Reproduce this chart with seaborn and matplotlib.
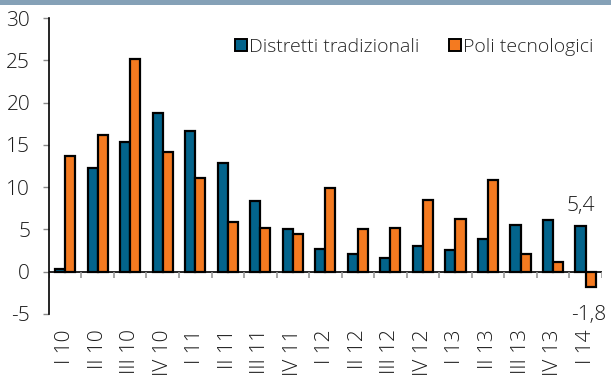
import matplotlib
matplotlib.use("Agg")
import matplotlib.pyplot as plt
import seaborn as sns
import pandas as pd
import numpy as np
from matplotlib.patches import Rectangle
from matplotlib.lines import Line2D

quarters = ["I 10", "II 10", "III 10", "IV 10", "I 11", "II 11", "III 11", "IV 11",
            "I 12", "II 12", "III 12", "IV 12", "I 13", "II 13", "III 13", "IV 13", "I 14"]
distretti = [0.3, 12.3, 15.3, 18.8, 16.6, 12.9, 8.4, 5.0, 2.7, 2.1, 1.65, 3.0,
             2.6, 3.9, 5.5, 6.1, 5.4]
poli = [13.7, 16.2, 25.1, 14.1, 11.1, 5.9, 5.2, 4.4, 9.9, 5.0, 5.2, 8.5,
        6.2, 10.8, 2.1, 1.1, -1.8]
series_names = ["Distretti tradizionali", "Poli tecnologici"]
colors = ["#03648c", "#f47a20"]
yticks = [-5, 0, 5, 10, 15, 20, 25, 30]

df = pd.DataFrame({
    "quarter": quarters * 2,
    "value": distretti + poli,
    "serie": [series_names[0]] * len(quarters) + [series_names[1]] * len(quarters),
})

sns.set_style("white")
plt.rcParams["font.family"] = ["Open Sans", "DejaVu Sans"]
plt.rcParams["font.weight"] = 300
text_color = "#1a1a1a"
fs = 15

fig = plt.figure(figsize=(6.11, 3.76), dpi=100)
ax = fig.add_axes([0.080, 0.165, 0.905, 0.787])

sns.barplot(data=df, x="quarter", y="value", hue="serie", palette=colors,
            width=0.62, edgecolor="black", linewidth=1.6, ax=ax, legend=False,
            saturation=1)

ax.set_ylim(-5, 30)
ax.set_xlim(-0.5, len(quarters) - 0.5)
ax.set_yticks(yticks)
ax.set_yticklabels([str(t) for t in yticks], fontsize=fs, color=text_color, fontweight=300)
ax.set_xticks(range(len(quarters)))
ax.set_xticklabels(quarters, rotation=90, fontsize=fs, color=text_color, va="top",
                   fontweight=300)
ax.tick_params(axis="x", length=0, pad=11)
ax.tick_params(axis="y", length=4.5, width=1, color="#8a8a8a", direction="out", pad=9, left=True)
ax.set_xlabel("")
ax.set_ylabel("")

for side in ["top", "right", "bottom"]:
    ax.spines[side].set_visible(False)
ax.spines["left"].set_color("black")
ax.spines["left"].set_linewidth(1.2)

# zero line with category separators
ax.axhline(0, color="black", linewidth=1.2, zorder=1)
ax.vlines(np.arange(len(quarters) + 1) - 0.5, 0, -0.75, color="#9a9a9a", linewidth=1.2, zorder=1)

# value labels on the last quarter
last = len(quarters) - 1
ax.text(last - 0.16, distretti[-1] + 1.8, f"{distretti[-1]:.1f}".replace(".", ","),
        ha="center", va="baseline", fontsize=fs, color=text_color, fontweight=300)
ax.text(last + 0.1, poli[-1] - 3.9, f"{poli[-1]:.1f}".replace(".", ","),
        ha="center", va="baseline", fontsize=fs, color=text_color, fontweight=300)

# legend
handles = [Line2D([], [], marker="s", linestyle="none", markersize=8,
                  markerfacecolor=c, markeredgecolor="black", markeredgewidth=1.4)
           for c in colors]
fig.legend(handles, series_names, loc="center left", bbox_to_anchor=(0.365, 0.875),
           ncol=2, frameon=False, prop={"size": 14, "weight": 300},
           handletextpad=0.05, columnspacing=1.4, handlelength=0.8, borderpad=0)

# header band
fig.add_artist(Rectangle((0, 1 - 5 / 376), 1, 5 / 376, transform=fig.transFigure,
                         facecolor="#85a1b7", edgecolor="none"))

fig.savefig("out.png", dpi=100)
